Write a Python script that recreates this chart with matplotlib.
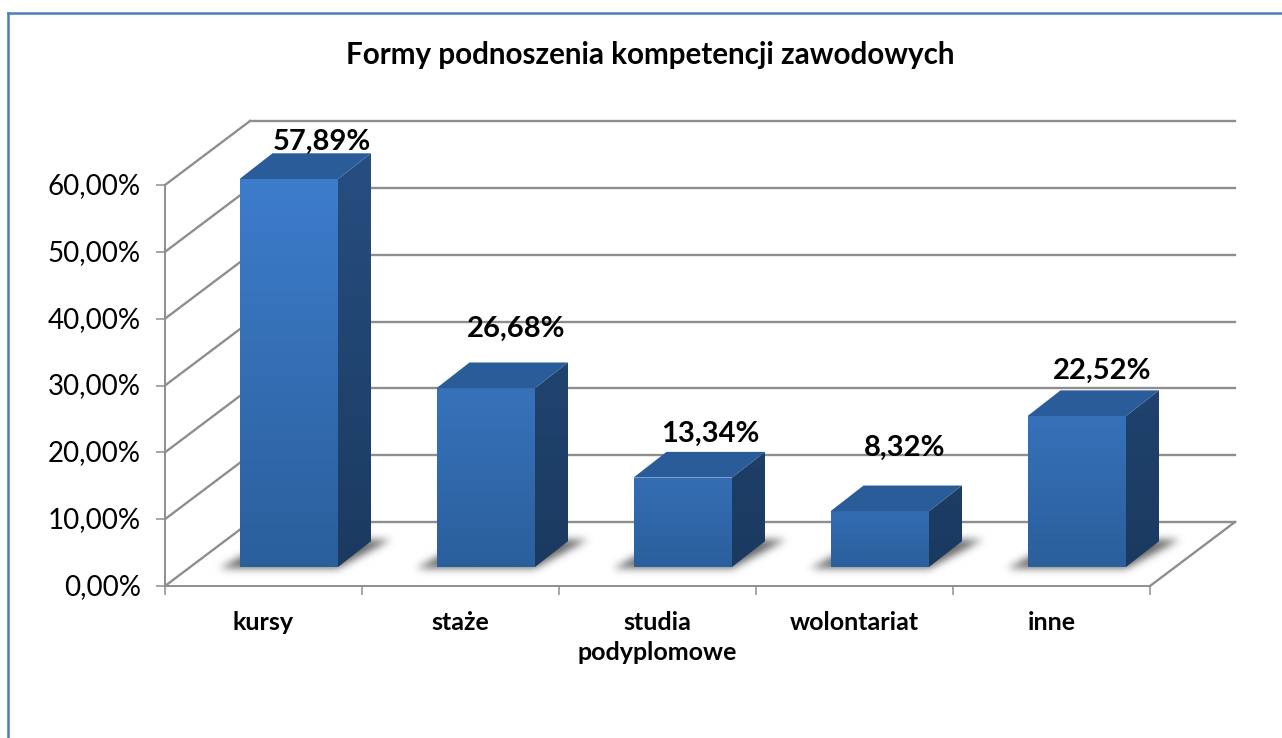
import numpy as np
import matplotlib
matplotlib.use("Agg")
import matplotlib.pyplot as plt
from matplotlib.colors import LinearSegmentedColormap, to_rgb
from matplotlib.lines import Line2D
from matplotlib.path import Path
from matplotlib.patches import Polygon
from matplotlib.ticker import FuncFormatter
from matplotlib.transforms import ScaledTranslation

# ---- data ----
title = "Formy podnoszenia kompetencji zawodowych"
categories = ["kursy", "staże", "studia\npodyplomowe", "wolontariat", "inne"]
values = [57.89, 26.68, 13.34, 8.32, 22.52]
value_labels = ["57,89%", "26,68%", "13,34%", "8,32%", "22,52%"]
yticks = [0, 10, 20, 30, 40, 50, 60]

# ---- layout (pixels) ----
W, H = 1282, 738
L, R, B, T = 165, 1150, 586, 185
label_offsets_px = [(33, 37), (30, 59), (28, 44), (25, 63), (25, 45)]

plt.rcParams["font.family"] = ["Lato", "DejaVu Sans"]
fig = plt.figure(figsize=(W / 100, H / 100), dpi=100, facecolor="white")
ax = fig.add_axes([L / W, 1 - B / H, (R - L) / W, (B - T) / H])
ax.set_facecolor("none")

px_x = 197.0           # pixels per category
px_y = (B - T) / 60.0  # pixels per percentage point
DX, DY = 85 / px_x, 64 / px_y              # wall depth
BAR_L, BAR_W = 74.5 / px_x, 98.5 / px_x    # bar front face
BAR_DX, BAR_DY = 33 / px_x, 25.7 / px_y    # bar depth
BAR_Y0 = 19 / px_y                         # bar base above the front edge
GRID = "#8E8E8E"

# walls and floor
for v in yticks:
    ax.plot([0, DX], [v, v + DY], color=GRID, lw=1.7, clip_on=False, zorder=1)
    ax.plot([DX, 5 + DX], [v + DY, v + DY], color=GRID, lw=1.7, clip_on=False, zorder=1)
ax.plot([5, 5 + DX], [0, DY], color=GRID, lw=1.7, clip_on=False, zorder=1)


def face(verts, top, bottom, z):
    """Paint a polygon with a vertical gradient."""
    verts = np.array(verts)
    cmap = LinearSegmentedColormap.from_list("f", [to_rgb(bottom), to_rgb(top)])
    x0, x1 = verts[:, 0].min(), verts[:, 0].max()
    y0, y1 = verts[:, 1].min(), verts[:, 1].max()
    im = ax.imshow(np.linspace(1, 0, 64).reshape(-1, 1), cmap=cmap, aspect="auto",
                   extent=[x0, x1, y0, y1], vmin=0, vmax=1, zorder=z,
                   interpolation="bilinear")
    clip = Polygon(verts, transform=ax.transData, fc="none", ec="none")
    ax.add_patch(clip)
    clip.set_clip_on(False)
    im.set_clip_path(clip)
    im.set_clip_box(fig.bbox)


def soft_shadow(verts, z):
    """Blurred grey polygon lying on the floor."""
    verts = np.array(verts)
    pad = 20
    xs = np.arange(verts[:, 0].min() - pad / px_x, verts[:, 0].max() + pad / px_x, 1 / px_x)
    ys = np.arange(verts[:, 1].min() - pad / px_y, verts[:, 1].max() + pad / px_y, 1 / px_y)
    gx, gy = np.meshgrid(xs, ys)
    mask = Path(verts).contains_points(np.c_[gx.ravel(), gy.ravel()]).reshape(gx.shape).astype(float)
    t = np.arange(-12, 13)
    g = np.exp(-t ** 2 / (2 * 4.0 ** 2))
    g /= g.sum()
    mask = np.apply_along_axis(lambda r: np.convolve(r, g, mode="same"), 0, mask)
    mask = np.apply_along_axis(lambda r: np.convolve(r, g, mode="same"), 1, mask)
    rgba = np.zeros(mask.shape + (4,))
    rgba[..., :3] = 0.38
    rgba[..., 3] = np.clip(mask * 0.95, 0, 1)
    im = ax.imshow(rgba, origin="lower", aspect="auto", zorder=z, interpolation="bilinear",
                   extent=[xs[0], xs[-1], ys[0], ys[-1]])
    im.set_clip_on(False)


mix = lambda a, b, t: tuple(np.array(to_rgb(a)) * t + np.array(to_rgb(b)) * (1 - t))

for i, v in enumerate(values):
    x0 = i + BAR_L
    x1 = x0 + BAR_W
    y0 = BAR_Y0
    # v scaled so the bar keeps its height above the axis base
    y1 = y0 + v * (388 / 57.89) / px_y

    # soft shadow on the floor
    sx = 20 / px_x
    soft_shadow([(x0 - sx, y0 - 1 / px_y), (x1, y0 - 1 / px_y),
                 (x1 + BAR_DX + sx, y0 + BAR_DY + 2 / px_y), (x0 + BAR_DX, y0 + BAR_DY + 2 / px_y)], 2)

    # side face, top face, front face
    side = [(x1, y0), (x1 + BAR_DX, y0 + BAR_DY), (x1 + BAR_DX, y1 + BAR_DY), (x1, y1)]
    front = [(x0, y0), (x1, y0), (x1, y1), (x0, y1)]
    top = [(x0, y1), (x1, y1), (x1 + BAR_DX, y1 + BAR_DY), (x0 + BAR_DX, y1 + BAR_DY)]
    frac = v / 60.0
    face(side, mix("#274F82", "#1B3A60", frac), "#1B3A60", 3)
    face(front, mix("#3D7DCD", "#2B5F9C", 0.35 + 0.65 * frac), "#2B5F9C", 3)
    ax.add_patch(Polygon(top, fc="#2A5C9A", ec="none", clip_on=False, zorder=3))

    dx_px, dy_px = label_offsets_px[i]
    ax.annotate(value_labels[i], xy=((x0 + x1) / 2, y1), xytext=(dx_px * 0.72, dy_px * 0.72),
                textcoords="offset points", ha="center", va="center",
                fontsize=21, fontweight="bold", color="black", zorder=5,
                annotation_clip=False)

# axes
ax.set_xlim(0, 5)
ax.set_ylim(0, 60)
ax.set_yticks(yticks)
ax.yaxis.set_major_formatter(FuncFormatter(lambda v, p: f"{v:.2f}".replace(".", ",") + "%"))
ax.set_xticks(range(6))
ax.set_xticklabels([])
ax.set_xticks(np.arange(5) + 0.5, minor=True)
ax.set_xticklabels(categories, minor=True, fontsize=18, fontweight="bold",
                   linespacing=1.35, va="top")
ax.tick_params(axis="x", which="minor", length=0, pad=18)
ax.tick_params(axis="both", which="major", length=6.5, width=1.1, color=GRID)
ax.tick_params(axis="y", labelsize=20, pad=11)
shift_up = ScaledTranslation(0, 1.5 / 100, fig.dpi_scale_trans)
for lab in ax.get_yticklabels():
    lab.set_transform(lab.get_transform() + shift_up)
for s in ("top", "right"):
    ax.spines[s].set_visible(False)
for s in ("left", "bottom"):
    ax.spines[s].set_color(GRID)
    ax.spines[s].set_linewidth(1.4)

fig.text(650 / W, 1 - 55 / H, title, ha="center", va="center", fontsize=21.3, fontweight="bold")

# chart frame: top and left edges only are inside the picture
frame = "#4A7EBB"
fig.add_artist(Line2D([8 / W, 8 / W], [0, 1 - 13 / H], color=frame, lw=1.8,
                      transform=fig.transFigure, solid_capstyle="projecting"))
fig.add_artist(Line2D([8 / W, 1], [1 - 13 / H, 1 - 13 / H], color=frame, lw=1.8,
                      transform=fig.transFigure, solid_capstyle="projecting"))

fig.savefig("out.png", dpi=100)
